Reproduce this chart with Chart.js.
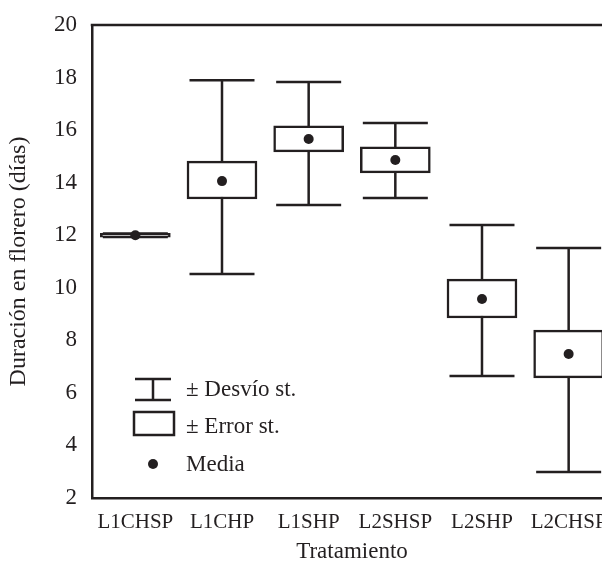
<!DOCTYPE html>
<html><head><meta charset="utf-8">
<script src="https://cdn.jsdelivr.net/npm/chart.js@4/dist/chart.umd.min.js"></script>
<style>
html,body{margin:0;padding:0;overflow:hidden;background:#fff;width:602px;height:563px}
#wrap{position:relative;width:619px;height:563px}
</style></head>
<body><div id="wrap"><canvas id="c"></canvas></div>
<script>
const categories = ['L1CHSP','L1CHP','L1SHP','L2SHSP','L2SHP','L2CHSP'];
const means  = [12.00, 14.06, 15.66, 14.86, 9.57, 7.48];
const seLow  = [11.93, 13.38, 15.17, 14.37, 8.85, 6.57];
const seHigh = [12.07, 14.82, 16.16, 15.36, 10.33, 8.39];
const sdLow  = [11.93, 10.52, 13.15, 13.42, 6.64, 2.99];
const sdHigh = [12.07, 17.90, 17.83, 16.27, 12.39, 11.51];
const yTicks = [2,4,6,8,10,12,14,16,18,20];
const legendLabels = ['± Desvío st.', '± Error st.', 'Media'];
const xTitle = 'Tratamiento';
const yTitle = 'Duración en florero (días)';

const INK = '#231f20';
const FONT = "'Liberation Serif', 'Times New Roman', serif";

const whiskerPlugin = {
  id: 'whiskers',
  beforeDatasetsDraw(chart) {
    const ctx = chart.ctx, xs = chart.scales.x, ys = chart.scales.y;
    ctx.save();
    ctx.strokeStyle = INK; ctx.lineWidth = 2.5; ctx.lineCap = 'butt';
    categories.forEach((c, i) => {
      const x = xs.getPixelForValue(i);
      const yl = ys.getPixelForValue(sdLow[i]), yh = ys.getPixelForValue(sdHigh[i]);
      const half = 32.5;
      ctx.beginPath();
      ctx.moveTo(x, yl); ctx.lineTo(x, yh);
      ctx.moveTo(x - half, yl); ctx.lineTo(x + half, yl);
      ctx.moveTo(x - half, yh); ctx.lineTo(x + half, yh);
      ctx.stroke();
    });
    ctx.restore();
  },
  afterDraw(chart) {
    const ctx = chart.ctx, a = chart.chartArea;
    ctx.save();
    ctx.strokeStyle = INK; ctx.lineWidth = 2.5;
    ctx.beginPath(); ctx.moveTo(a.left - 1.25, a.top); ctx.lineTo(chart.width, a.top); ctx.stroke();
    const ys = chart.scales.y;
    const base = ys.getPixelForValue(2);
    const lx = a.left + 43, tx = a.left + 94;
    ctx.beginPath();
    ctx.moveTo(lx, base - 119); ctx.lineTo(lx + 36, base - 119);
    ctx.moveTo(lx, base - 98); ctx.lineTo(lx + 36, base - 98);
    ctx.moveTo(lx + 18, base - 119); ctx.lineTo(lx + 18, base - 98);
    ctx.stroke();
    ctx.strokeRect(lx - 1, base - 86, 40, 23);
    ctx.fillStyle = INK;
    ctx.beginPath(); ctx.arc(lx + 18, base - 34, 5, 0, Math.PI * 2); ctx.fill();
    ctx.font = '23px ' + FONT;
    ctx.textBaseline = 'middle'; ctx.textAlign = 'left';
    ctx.fillText(legendLabels[0], tx, base - 108);
    ctx.fillText(legendLabels[1], tx, base - 71);
    ctx.fillText(legendLabels[2], tx, base - 33);
    ctx.restore();
  }
};

new Chart(document.getElementById('c'), {
  data: {
    labels: categories,
    datasets: [
      {
        type: 'line', label: 'Media', data: means, showLine: false,
        pointRadius: 5, pointHoverRadius: 5, pointBackgroundColor: INK, pointBorderColor: INK,
        pointBorderWidth: 0, order: 0
      },
      {
        type: 'bar', label: '± Error st.',
        data: categories.map((c, i) => [seLow[i], seHigh[i]]),
        backgroundColor: '#ffffff', borderColor: INK, borderWidth: 2.5,
        borderSkipped: false, barThickness: 70, order: 1
      }
    ]
  },
  options: {
    responsive: true, maintainAspectRatio: false, animation: false,
    layout: { padding: { top: 25, right: 2, left: 0, bottom: 0 } },
    plugins: { legend: { display: false }, tooltip: { enabled: false } },
    scales: {
      x: {
        type: 'category', offset: true,
        grid: { display: false, drawTicks: false },
        border: { display: true, color: INK, width: 2.5 },
        ticks: { color: INK, font: { family: FONT, size: 21 }, padding: 12, maxRotation: 0, autoSkip: false },
        title: { display: true, text: xTitle, color: INK, font: { family: FONT, size: 23, lineHeight: 1 }, padding: { top: 0, bottom: 0 } },
        afterFit(s) { s.height = 65; }
      },
      y: {
        min: 2, max: 20,
        grid: { display: false, drawTicks: false },
        border: { display: true, color: INK, width: 2.5 },
        afterBuildTicks(s) { s.ticks = yTicks.map(v => ({ value: v })); },
        ticks: { color: INK, font: { family: FONT, size: 23 }, padding: 15 },
        title: { display: true, text: yTitle, color: INK, font: { family: FONT, size: 24 }, padding: { top: 4, bottom: 4 } },
        afterFit(s) { s.width = 92; s.paddingTop = 0; s.paddingBottom = 0; }
      }
    }
  },
  plugins: [whiskerPlugin]
});
</script>
</body></html>
